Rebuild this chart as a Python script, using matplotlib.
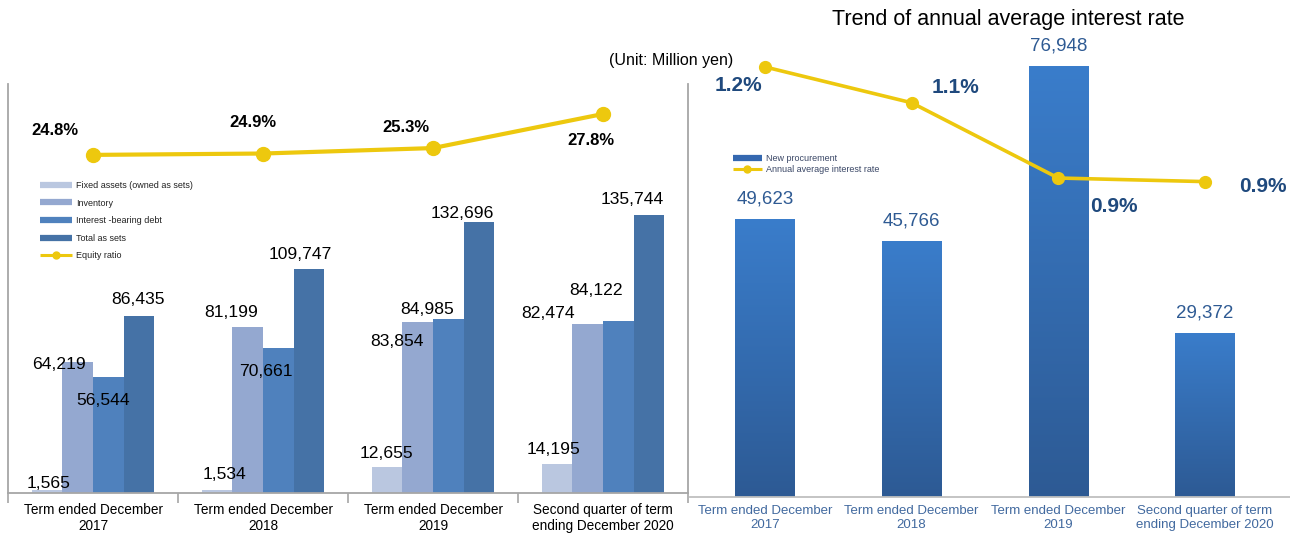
import numpy as np
import matplotlib
matplotlib.use("Agg")
import matplotlib.pyplot as plt
from matplotlib.colors import LinearSegmentedColormap
from matplotlib.lines import Line2D

plt.rcParams['font.family'] = ['Liberation Sans', 'DejaVu Sans']

# ---------------- data ----------------
categories = ["Term ended December\n2017", "Term ended December\n2018",
              "Term ended December\n2019", "Second quarter of term\nending December 2020"]
fixed_assets = [1565, 1534, 12655, 14195]
inventory = [64219, 81199, 83854, 82474]
interest_debt = [56544, 70661, 84985, 84122]
total_assets = [86435, 109747, 132696, 135744]
equity_ratio = [24.8, 24.9, 25.3, 27.8]

new_procurement = [49623, 45766, 76948, 29372]
interest_rate = [1.20, 1.10, 0.89, 0.88]
interest_rate_labels = ["1.2%", "1.1%", "0.9%", "0.9%"]

series_names = ["Fixed assets (owned as sets)", "Inventory", "Interest -bearing debt", "Total as sets"]

# ---------------- layout / styles ----------------
W, H = 1290, 533
fig = plt.figure(figsize=(W / 100, H / 100), dpi=100)

def px_axes(x0, y_top, x1, y_bottom):
    return fig.add_axes([x0 / W, 1 - y_bottom / H, (x1 - x0) / W, (y_bottom - y_top) / H])

series_colors = ["#BAC7E0", "#94A8D0", "#4F81BD", "#4572A6"]
yellow = "#EDC80E"
navy = "#1F497D"

# label offsets in pixels (dx, dy) relative to bar top centre
bar_label_offsets = [
    [(1, 6), (-19, -3), (-5, -23), (-1, 17)],
    [(7, 15), (-17, 14), (-12, -23), (-9, 14)],
    [(-1, 14), (-21, -20), (-21, 10), (-17, 8)],
    [(-4, 14), (-40, 11), (-22, 30), (-17, 16)],
]
equity_label_offsets = [(-38, 24), (-10, 31), (-27, 21), (-12, -27)]
rate_label_offsets = [(-27, -19), (44, 15), (56, -28), (58, -5)]

# ---------------- left panel ----------------
axL = px_axes(8, 84, 688, 493)
x = np.arange(len(categories))
bw = 0.18
series = [fixed_assets, inventory, interest_debt, total_assets]
for i, (vals, col, name) in enumerate(zip(series, series_colors, series_names)):
    pos = x + (i - 1.5) * bw
    bars = axL.bar(pos, vals, width=bw, color=col, label=name, zorder=2)
    for j, b in enumerate(bars):
        dx, dy = bar_label_offsets[j][i]
        axL.annotate(f"{vals[j]:,}", (b.get_x() + b.get_width() / 2, b.get_height()),
                     xytext=(dx, dy), textcoords="offset pixels",
                     ha="center", va="center", fontsize=12.6, color="black", zorder=5)

axL.set_xlim(-0.5, 3.5)
axL.set_ylim(0, 200000)
axL.set_yticks([])
axL.set_xticks(x)
axL.set_xticklabels(categories, fontsize=9.8, linespacing=1.2)
axL.set_xticks(np.arange(-0.5, 3.6, 1.0), minor=True)
axL.tick_params(axis="x", which="major", length=0, pad=7)
axL.tick_params(axis="x", which="minor", length=7, color="#A6A6A6", width=1.2)
for s in ["left", "right", "bottom"]:
    axL.spines[s].set_color("#A6A6A6")
    axL.spines[s].set_linewidth(1.3)
axL.spines["top"].set_visible(False)

axL2 = axL.twinx()
axL2.set_ylim(0, 30)
axL2.plot(x, equity_ratio, color=yellow, lw=3, marker="o", ms=10, zorder=3, label="Equity ratio")
for j, v in enumerate(equity_ratio):
    dx, dy = equity_label_offsets[j]
    axL2.annotate(f"{v:.1f}%", (x[j], v), xytext=(dx, dy), textcoords="offset pixels",
                  ha="center", va="center", fontsize=12, fontweight="bold", color="black")
axL2.set_yticks([])
for s in axL2.spines.values():
    s.set_visible(False)

leg_handles = [Line2D([0], [0], color=c, lw=4.5, solid_capstyle="butt") for c in series_colors] + \
              [Line2D([0], [0], color=yellow, lw=2.2, marker="o", ms=5, solid_capstyle="butt")]
leg_labels = series_names + ["Equity ratio"]
fig.legend(leg_handles, leg_labels, loc="upper left",
           bbox_to_anchor=(40 / W, 1 - 181 / H), bbox_transform=fig.transFigure,
           frameon=False, fontsize=6.5, handlelength=3.5, handletextpad=0.5,
           labelspacing=0.95, borderpad=0, borderaxespad=0, labelcolor="#222222")

# ---------------- right panel ----------------
axR = px_axes(690, 49, 1290, 497)
xr = np.arange(len(categories))
rbars = axR.bar(xr, new_procurement, width=0.405, color="#3468B0", zorder=2, label="New procurement")
cmap = LinearSegmentedColormap.from_list("g", ["#2D5A94", "#3A7DCB"])
grad = np.linspace(0, 1, 256).reshape(-1, 1)
for b, v in zip(rbars, new_procurement):
    x0, w = b.get_x(), b.get_width()
    im = axR.imshow(grad, cmap=cmap, origin="lower", aspect="auto",
                    extent=[x0, x0 + w, 0, b.get_height()], zorder=2.5)
    im.set_clip_path(b)
    axR.annotate(f"{v:,}", (x0 + w / 2, b.get_height()), xytext=(0, 20),
                 textcoords="offset pixels", ha="center", va="center",
                 fontsize=13.5, color="#2E5A93")
axR.set_xlim(-0.511, 3.58)
axR.set_ylim(0, 80000)
axR.set_yticks([])
axR.set_xticks(xr)
axR.set_xticklabels(categories, fontsize=9.5, color="#41699F", linespacing=1.2)
axR.tick_params(axis="x", length=0, pad=6)
for s in ["left", "right", "top"]:
    axR.spines[s].set_visible(False)
axR.spines["bottom"].set_color("#BFBFBF")
axR.spines["bottom"].set_linewidth(1.3)

axR2 = axR.twinx()
axR2.set_ylim(0, 1.25)
axR2.plot(xr, interest_rate, color=yellow, lw=2.6, marker="o", ms=8.5, zorder=3)
for j, v in enumerate(interest_rate):
    dx, dy = rate_label_offsets[j]
    axR2.annotate(interest_rate_labels[j], (xr[j], v), xytext=(dx, dy), textcoords="offset pixels",
                  ha="center", va="center", fontsize=15, fontweight="bold", color=navy)
axR2.set_yticks([])
for s in axR2.spines.values():
    s.set_visible(False)

r_handles = [Line2D([0], [0], color="#3468B0", lw=4.5, solid_capstyle="butt"),
             Line2D([0], [0], color=yellow, lw=2.2, marker="o", ms=5, solid_capstyle="butt")]
fig.legend(r_handles, ["New procurement", "Annual average interest rate"], loc="upper left",
           bbox_to_anchor=(733 / W, 1 - 154 / H), bbox_transform=fig.transFigure,
           frameon=False, fontsize=6.5, handlelength=3.2, handletextpad=0.45,
           labelspacing=0.2, borderpad=0, borderaxespad=0, labelcolor="#3A4766")

# ---------------- titles ----------------
fig.text(1008 / W, 1 - 20 / H, "Trend of annual average interest rate", ha="center", va="center",
         fontsize=15.5, color="black")
fig.text(671 / W, 1 - 61 / H, "(Unit: Million yen)", ha="center", va="center",
         fontsize=11.5, color="black")

fig.savefig("out.png", dpi=100)
